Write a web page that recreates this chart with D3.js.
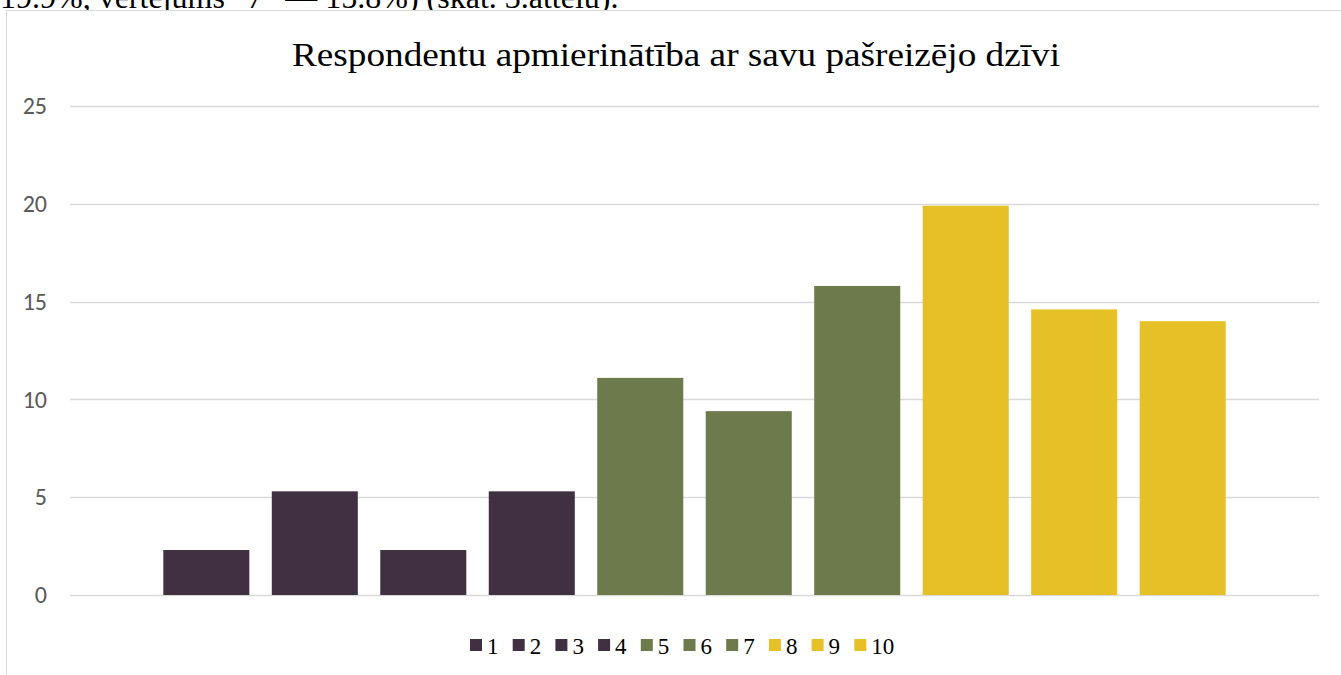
<!DOCTYPE html>
<html>
<head>
<meta charset="utf-8">
<script src="https://cdn.jsdelivr.net/npm/d3@7"></script>
<style>
  html, body { margin: 0; padding: 0; background: #fff; }
  svg { display: block; }
</style>
</head>
<body>
<svg id="chart" width="1341" height="675"></svg>
<script>
// Satisfaction scores (1–10) and share of respondents, %
const scores = ["1", "2", "3", "4", "5", "6", "7", "8", "9", "10"];
const shares = [2.3, 5.3, 2.3, 5.3, 11.1, 9.4, 15.8, 19.9, 14.6, 14.0];
const scoreColors = ["#403041", "#403041", "#403041", "#403041",
                     "#6d7a4c", "#6d7a4c", "#6d7a4c",
                     "#e6c027", "#e6c027", "#e6c027"];
const yTicks = [0, 5, 10, 15, 20, 25];
const titleText = "Respondentu apmierinātība ar savu pašreizējo dzīvi";
const precedingLine = "19.9%, vērtējums \u201C7\u201D \u2014 15.8%) (skat. 3.attēlu).";

const SERIF = '"Liberation Serif", "Times New Roman", serif';
const SANS = 'Carlito, Lato, sans-serif';

const svg = d3.select("#chart");

// tail of the paragraph above the figure
svg.append("text")
  .attr("x", 0).attr("y", 8)
  .style("font-family", SERIF)
  .style("font-size", "32px")
  .style("fill", "#000")
  .text(precedingLine);

// chart frame
svg.append("rect")
  .attr("x", 6.5).attr("y", 10.5)
  .attr("width", 1345).attr("height", 700)
  .attr("fill", "#fff")
  .attr("stroke", "#d9d9d9").attr("stroke-width", 1);

const plot = { left: 70, right: 1319, top: 106, bottom: 595 };

const y = d3.scaleLinear().domain([0, 25]).range([plot.bottom, plot.top]);

// one category, ten series clustered in the middle
const x = d3.scaleBand()
  .domain(scores)
  .range([plot.left, plot.right])
  .paddingInner(0.207)
  .paddingOuter(0.86);

// gridlines
svg.append("g")
  .selectAll("line")
  .data(yTicks)
  .join("line")
  .attr("x1", plot.left).attr("x2", plot.right)
  .attr("y1", d => Math.round(y(d)) + 0.5)
  .attr("y2", d => Math.round(y(d)) + 0.5)
  .attr("stroke", "#d9d9d9").attr("stroke-width", 1.3);

// y axis labels
const yAxis = d3.axisLeft(y).tickValues(yTicks).tickSize(0).tickPadding(0);
const gy = svg.append("g")
  .attr("transform", `translate(${plot.left - 23},0)`)
  .call(yAxis);
gy.select(".domain").remove();
gy.selectAll("text")
  .style("font-family", SANS)
  .style("font-size", "24px")
  .style("fill", "#595959");

// bars
svg.append("g")
  .selectAll("rect")
  .data(scores)
  .join("rect")
  .attr("x", d => x(d))
  .attr("width", x.bandwidth())
  .attr("y", (d, i) => y(shares[i]))
  .attr("height", (d, i) => y(0) - y(shares[i]))
  .attr("fill", (d, i) => scoreColors[i]);

// title
svg.append("text")
  .attr("x", 292).attr("y", 66)
  .attr("textLength", 768)
  .attr("lengthAdjust", "spacingAndGlyphs")
  .style("font-family", SERIF)
  .style("font-size", "33px")
  .style("fill", "#000")
  .text(titleText);

// legend
const legendStep = 42.7;
const legend = svg.append("g")
  .attr("transform", "translate(470,639)")
  .selectAll("g")
  .data(scores)
  .join("g")
  .attr("transform", (d, i) => `translate(${i * legendStep},0)`);
legend.append("rect")
  .attr("width", 12).attr("height", 12)
  .attr("fill", (d, i) => scoreColors[i]);
legend.append("text")
  .attr("x", 17).attr("y", 14.5)
  .style("font-family", SERIF)
  .style("font-size", "23px")
  .style("fill", "#000")
  .text(d => d);
</script>
</body>
</html>
